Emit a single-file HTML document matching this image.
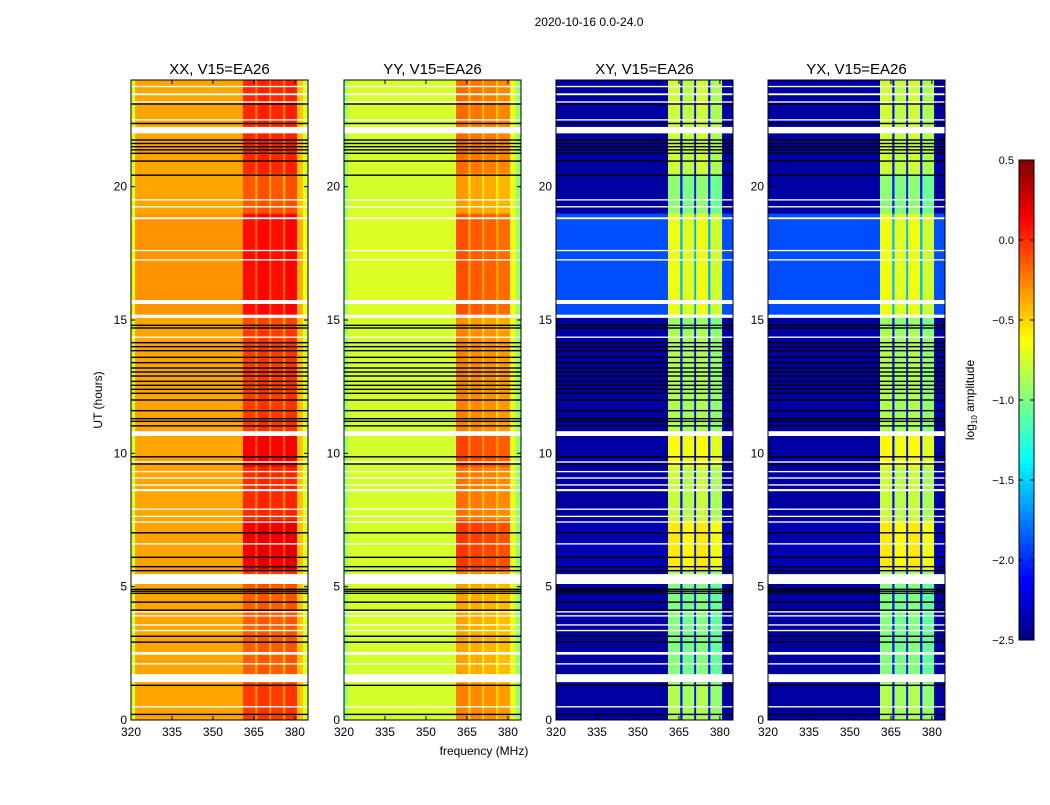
<!DOCTYPE html>
<html><head><meta charset="utf-8"><style>
body{margin:0;background:#fff;width:1050px;height:800px;overflow:hidden}
svg text{font-family:"Liberation Sans","DejaVu Sans",sans-serif}
</style></head><body>
<svg id="fig" width="1050" height="800" xmlns="http://www.w3.org/2000/svg">
<rect width="1050" height="800" fill="#fff"/>
<text x="589" y="26" font-size="12" text-anchor="middle">2020-10-16 0.0-24.0</text>
<text x="0" y="0" font-size="12" text-anchor="middle" transform="translate(102,400) rotate(-90)">UT (hours)</text>
<text x="484" y="755" font-size="12" text-anchor="middle">frequency (MHz)</text>
<text font-size="12" text-anchor="middle" transform="translate(974,400) rotate(-90)">log<tspan font-size="8" dy="3">10</tspan><tspan dy="-3"> amplitude</tspan></text>
<g id="panels"></g>
<g id="cbar"></g>
</svg>
<script>
// ---- data ----
const panelTitles = ["XX, V15=EA26","YY, V15=EA26","XY, V15=EA26","YX, V15=EA26"];
const xTicks = [320,335,350,365,380];
const yTicks = [0,5,10,15,20];
const cbarTicks = [0.5,0.0,-0.5,-1.0,-1.5,-2.0,-2.5];
// frequency profiles [fStart,fEnd,log amplitude,isBand]
const profXX = [[320,321.5,-0.75,0],[321.5,361,-0.36,0],[361,365.5,-0.05,1],[365.5,366.3,-0.3,1],[366.3,370.6,-0.02,1],[370.6,371.3,-0.3,1],[371.3,375.7,-0.05,1],[375.7,376.5,-0.3,1],[376.5,380.8,-0.02,1],[380.8,383,-0.45,0],[383,385,-0.72,0]];
const profYY = [[320,321.5,-0.95,0],[321.5,361,-0.75,0],[361,365.5,-0.25,1],[365.5,366.3,-0.5,1],[366.3,370.6,-0.28,1],[370.6,371.3,-0.5,1],[371.3,375.7,-0.3,1],[375.7,376.5,-0.5,1],[376.5,380.8,-0.33,1],[380.8,383,-0.7,0],[383,385,-0.95,0]];
const profXY = [[320,361,-2.4,0],[361,365.5,-0.85,1],[365.5,366.3,-2.1,0],[366.3,370.6,-0.9,1],[370.6,371.3,-2.1,0],[371.3,375.7,-0.85,1],[375.7,376.5,-2.1,0],[376.5,380.8,-0.95,1],[380.8,385,-2.4,0]];
const profYX = [[320,361,-2.4,0],[361,365.5,-0.85,1],[365.5,366.3,-2.1,0],[366.3,370.6,-0.9,1],[370.6,371.3,-2.1,0],[371.3,375.7,-0.85,1],[375.7,376.5,-2.1,0],[376.5,380.8,-0.95,1],[380.8,385,-2.4,0]];
// time segments [tStart,tEnd,band offset,base offset]
const timeSegs = [[0,1.4,0,0],[1.4,5.1,-0.1,0],[5.1,5.6,0,0],[5.6,7.5,0.22,0.05],[7.5,9.5,0.05,0],[9.5,10.7,0.18,0],[10.7,14.6,0,0],[14.6,15.2,-0.05,0],[15.2,19,0.14,0.5],[19,20.5,-0.08,0],[20.5,24,0.06,0]];
const bandGain = [1,1,1.3,1.3];
const baseGain = [0.1,0.05,1,1];
// flagged (white) bands [tStart,tEnd]
const whiteBands = [[0.47,0.52],[1.42,1.72],[2.08,2.13],[2.45,2.55],[3.33,3.38],[3.54,3.59],[3.88,3.93],[4.03,4.08],[5.1,5.47],[6.58,6.63],[7.4,7.45],[7.61,7.66],[7.88,7.93],[8.58,8.66],[8.79,8.84],[9.05,9.1],[9.29,9.34],[9.65,9.7],[10.65,10.83],[14.33,14.38],[15.08,15.2],[15.6,15.75],[17.23,17.28],[17.58,17.63],[18.78,18.85],[19.22,19.27],[19.48,19.53],[22.0,22.24],[22.48,22.53],[23.15,23.2],[23.43,23.5],[23.73,23.78]];
// black lines (times)
const blackLines = [0.21,1.3,2.92,3.14,4.12,4.42,4.75,4.83,4.9,5.6,5.75,6.1,7.02,9.6,9.87,11.03,11.2,11.3,11.6,12.0,12.25,12.4,12.55,12.7,12.9,13.05,13.2,13.4,13.6,13.85,14.0,14.15,14.7,14.8,20.43,20.96,21.25,21.38,21.5,21.62,21.75,22.37,23.1];
const profiles = [profXX,profYY,profXY,profYX];
// ---- layout ----
const panelX = [131,344,556,768], panelW = 177, yTop = 80, yBot = 720;
const fMin = 320, fMax = 384.8, tMin = 0, tMax = 24;
const NS = "http://www.w3.org/2000/svg";
function xs(p,f){return panelX[p] + (f-fMin)/(fMax-fMin)*panelW;}
function ys(t){return yBot - (t-tMin)/(tMax-tMin)*(yBot-yTop);}
function jet(v){
  let x = (v+2.5)/3; x = Math.max(0,Math.min(1,x));
  function c(a){return Math.max(0,Math.min(1,a));}
  const r = c(1.5-Math.abs(4*x-3)), g = c(1.5-Math.abs(4*x-2)), b = c(1.5-Math.abs(4*x-1));
  return `rgb(${Math.round(r*255)},${Math.round(g*255)},${Math.round(b*255)})`;
}
function mk(tag,attrs,parent){const e=document.createElementNS(NS,tag);for(const k in attrs)e.setAttribute(k,attrs[k]);parent.appendChild(e);return e;}
const root = document.getElementById('panels');
for(let p=0;p<4;p++){
  const g = mk('g',{},root);
  
  
  const hm = mk('g',{},g);
  
  
  for(const s of timeSegs){
    for(const seg of profiles[p]){
      const v = seg[2] + (seg[3] ? s[2]*bandGain[p] : s[3]*baseGain[p]);
      const x0 = xs(p,seg[0]), x1 = Math.min(xs(p,seg[1]), panelX[p]+panelW);
      const r = mk('rect',{x:x0,y:ys(s[1]),width:x1-x0+0.3,height:ys(s[0])-ys(s[1])+0.3,fill:jet(v)},hm);
      
      
    }
  }
  for(const w of whiteBands){
    const r = mk('rect',{x:panelX[p],y:ys(w[1]),width:panelW,height:Math.max(1.2,ys(w[0])-ys(w[1])),fill:'#fff'},g);
    
    
  }
  for(const b of blackLines){
    const r = mk('rect',{x:panelX[p],y:ys(b)-0.7,width:panelW,height:1.4,fill:'#000'},g);
    
    
  }
  const fr = mk('rect',{x:panelX[p],y:yTop,width:panelW,height:yBot-yTop,fill:'none',stroke:'#000','stroke-width':1},g);
  
  
  const tt = mk('text',{x:panelX[p]+panelW/2,y:74,'font-size':15,'text-anchor':'middle'},g);
  tt.textContent = panelTitles[p];
  
  
  for(const f of xTicks){
    const x = xs(p,f);
    mk('line',{x1:x,x2:x,y1:yBot,y2:yBot-4,stroke:'#000'},g);
    mk('line',{x1:x,x2:x,y1:yTop,y2:yTop+4,stroke:'#000'},g);
    const t = mk('text',{x:x,y:yBot+16,'font-size':12,'text-anchor':'middle'},g);
    t.textContent = f;
    
    
  }
  for(const h of yTicks){
    const y = ys(h);
    mk('line',{x1:panelX[p],x2:panelX[p]+4,y1:y,y2:y,stroke:'#000'},g);
    mk('line',{x1:panelX[p]+panelW,x2:panelX[p]+panelW-4,y1:y,y2:y,stroke:'#000'},g);
    const t = mk('text',{x:panelX[p]-4,y:y+4,'font-size':12,'text-anchor':'end'},g);
    t.textContent = h;
    
    
  }
}
// colorbar
const cb = document.getElementById('cbar');
const cbX=1019, cbW=15, cbT=160, cbB=640;
for(let i=0;i<120;i++){
  const v = 0.5 - (i+0.5)/120*3;
  const r = mk('rect',{x:cbX,y:cbT+i*(cbB-cbT)/120,width:cbW,height:(cbB-cbT)/120+0.5,fill:jet(v)},cb);
  
  
}
mk('rect',{x:cbX,y:cbT,width:cbW,height:cbB-cbT,fill:'none',stroke:'#000'},cb);
for(const v of cbarTicks){
  const y = cbT + (0.5-v)/3*(cbB-cbT);
  mk('line',{x1:cbX,x2:cbX+4,y1:y,y2:y,stroke:'#000'},cb);
  mk('line',{x1:cbX+cbW,x2:cbX+cbW-4,y1:y,y2:y,stroke:'#000'},cb);
  const t = mk('text',{x:cbX-5,y:y+4,'font-size':11,'text-anchor':'end'},cb);
  t.textContent = v.toFixed(1).replace('-','\u2212');
  
  
}
</script>
</body></html>
